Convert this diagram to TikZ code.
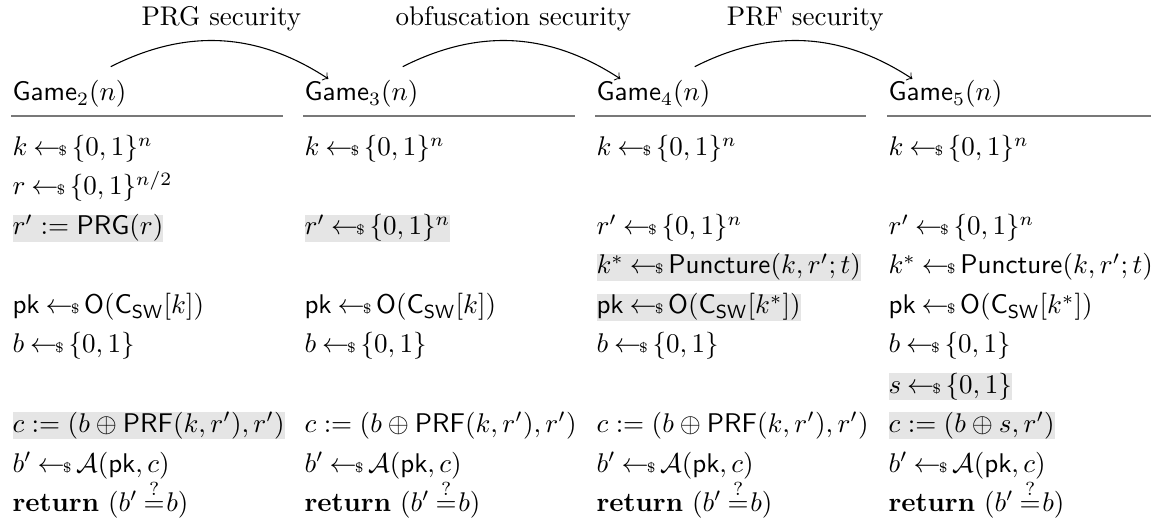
\documentclass[tikz,border=0pt]{standalone}
\usepackage{amsmath}
\usetikzlibrary{positioning}

\definecolor{changecolor}{gray}{0.9}
\definecolor{rulecolor}{gray}{0.47}
\newcommand{\smp}{\mkern4mu{\leftarrow}\mkern-1.5mu{\scriptscriptstyle\$}\mkern3mu}
\newcommand{\chk}{\mkern4mu{\overset{?}{=}}\mkern1mu}

\begin{document}
\begin{tikzpicture}[x=0.37pt,y=-0.37pt,
    line/.style={anchor=base west, inner sep=0pt},
    changed/.style={line, fill=changecolor},
    head/.style={anchor=base west, inner sep=0pt},
    rule/.style={rulecolor, line width=1pt},
    hop/.style={->, bend left=30}]
        \useasboundingbox (0,0) rectangle (1151,531);

        % Game 2
        \node[head] (g2) at (12,101) {\textsf{Game}$_2(n)$};
        \node[line] (k2) at (12,156) {$k \smp \{0,1\}^n$};
        \node[line] (r2) at (12,195) {$r \smp \{0,1\}^{n/2}$};
        \node[changed] (rp2) at (12,235) {$r' := \mathsf{PRG}(r)$};
        \node[line] (pk2) at (12,314) {$\mathsf{pk} \smp \mathsf{O}(\mathsf{C}_{\mathsf{SW}}[k])$};
        \node[line] (b2) at (12,353) {$b \smp \{0,1\}$};
        \node[changed] (c2) at (12,432) {$c := (b \oplus \mathsf{PRF}(k,r'),r')$};
        \node[line] (bp2) at (12,472) {$b' \smp \mathcal{A}(\mathsf{pk},c)$};
        \node[line] (ret2) at (12,511) {\textbf{return}\ $(b' \chk b)$};

        % Game 3
        \node[head] (g3) at (304,101) {\textsf{Game}$_3(n)$};
        \node[line] (k3) at (304,156) {$k \smp \{0,1\}^n$};
        \node[changed] (rp3) at (304,235) {$r' \smp \{0,1\}^n$};
        \node[line] (pk3) at (304,314) {$\mathsf{pk} \smp \mathsf{O}(\mathsf{C}_{\mathsf{SW}}[k])$};
        \node[line] (b3) at (304,353) {$b \smp \{0,1\}$};
        \node[line] (c3) at (304,432) {$c := (b \oplus \mathsf{PRF}(k,r'),r')$};
        \node[line] (bp3) at (304,472) {$b' \smp \mathcal{A}(\mathsf{pk},c)$};
        \node[line] (ret3) at (304,511) {\textbf{return}\ $(b' \chk b)$};

        % Game 4
        \node[head] (g4) at (596,101) {\textsf{Game}$_4(n)$};
        \node[line] (k4) at (596,156) {$k \smp \{0,1\}^n$};
        \node[line] (rp4) at (596,235) {$r' \smp \{0,1\}^n$};
        \node[changed] (ks4) at (596,274) {$k^* \smp \mathsf{Puncture}(k,r';t)$};
        \node[changed] (pk4) at (596,314) {$\mathsf{pk} \smp \mathsf{O}(\mathsf{C}_{\mathsf{SW}}[k^*])$};
        \node[line] (b4) at (596,353) {$b \smp \{0,1\}$};
        \node[line] (c4) at (596,432) {$c := (b \oplus \mathsf{PRF}(k,r'),r')$};
        \node[line] (bp4) at (596,472) {$b' \smp \mathcal{A}(\mathsf{pk},c)$};
        \node[line] (ret4) at (596,511) {\textbf{return}\ $(b' \chk b)$};

        % Game 5
        \node[head] (g5) at (888,101) {\textsf{Game}$_5(n)$};
        \node[line] (k5) at (888,156) {$k \smp \{0,1\}^n$};
        \node[line] (rp5) at (888,235) {$r' \smp \{0,1\}^n$};
        \node[line] (ks5) at (888,274) {$k^* \smp \mathsf{Puncture}(k,r';t)$};
        \node[line] (pk5) at (888,314) {$\mathsf{pk} \smp \mathsf{O}(\mathsf{C}_{\mathsf{SW}}[k^*])$};
        \node[line] (b5) at (888,353) {$b \smp \{0,1\}$};
        \node[changed] (s5) at (888,393) {$s \smp \{0,1\}$};
        \node[changed] (c5) at (888,432) {$c := (b \oplus s,r')$};
        \node[line] (bp5) at (888,472) {$b' \smp \mathcal{A}(\mathsf{pk},c)$};
        \node[line] (ret5) at (888,511) {\textbf{return}\ $(b' \chk b)$};

        % Header rules
        \draw[rule] (11,116) -- (283,116);
        \draw[rule] (303,116) -- (575,116);
        \draw[rule] (595,116) -- (866,116);
        \draw[rule] (887,116) -- (1151,116);

        % Hops between games
        \draw[hop] ([xshift=-6pt,yshift=5pt]g2.north east) to node[above] {PRG security} ([xshift=9pt,yshift=0.5pt]g3.north west);
        \draw[hop] ([xshift=-6pt,yshift=5pt]g3.north east) to node[above] {obfuscation security} ([xshift=9pt,yshift=0.5pt]g4.north west);
        \draw[hop] ([xshift=-6pt,yshift=5pt]g4.north east) to node[above] {PRF security} ([xshift=9pt,yshift=0.5pt]g5.north west);
\end{tikzpicture}
\end{document}
